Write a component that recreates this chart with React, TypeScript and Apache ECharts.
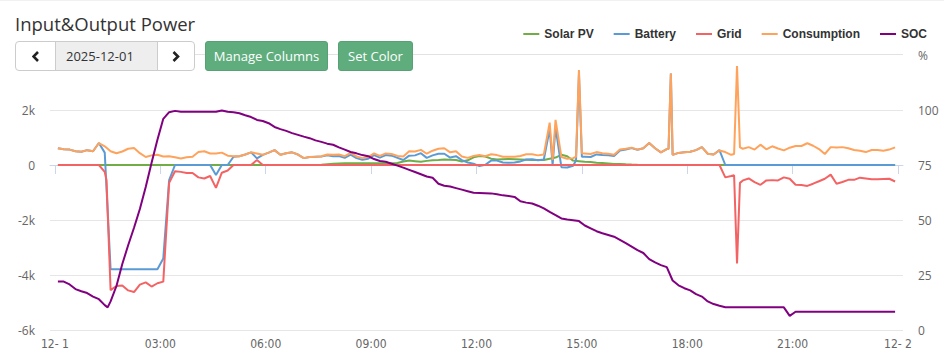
import React, { useEffect, useRef } from "react";
import * as echarts from "echarts";

// ---- data ----
const seriesNames = ["Solar PV", "Battery", "Grid", "Consumption", "SOC"];
const seriesColors = ["#70ad47", "#5b9bd5", "#f46363", "#ffa35c", "#800080"];

// samples every 10 minutes, first one at 00:05
const FIRST_SAMPLE_MIN = 5;
const SAMPLE_STEP_MIN = 10;

const xTickMinutes = [0, 180, 360, 540, 720, 900, 1080, 1260, 1440];
const xTickLabels = ["12- 1", "03:00", "06:00", "09:00", "12:00", "15:00", "18:00", "21:00", "12- 2"];

const solarPV = [
  0, 0, 0, 0, 0, 0, 0, 0, 0, 0,
  0, 0, 0, 0, 0, 0, 0, 0, 0, 0,
  0, 0, 0, 0, 0, 0, 0, 0, 0, 0,
  0, 0, 0, 0, 0, 0, 0, 0, 0, 0,
  0, 0, 0, 0, 0, 10, 30, 50, 55, 60,
  60, 60, 60, 60, 60, 60, 60, 60, 70, 130,
  160, 140, 120, 150, 170, 180, 200, 190, 180, 130,
  170, 280, 330, 310, 230, 200, 210, 220, 210, 200,
  190, 180, 180, 180, 230, 270, 370, 320, 160, 140,
  120, 110, 85, 70, 55, 40, 36, 25, 15, 8,
  3, 0, 0, 0, 0, 0, 0, 0, 0, 0,
  0, 0, 0, 0, 0, 0, 0, 0, 0, 0,
  0, 0, 0, 0, 0, 0, 0, 0, 0, 0,
  0, 0, 0, 0, 0, 0, 0, 0, 0, 0,
  0, 0, 0, 0,
];
const solarPVExtras: [string, number][] = [];

const battery = [
  610, 570, 560, 500, 480, 540, 500, 800, 450, -3790,
  -3790, -3790, -3790, -3790, -3790, -3790, -3790, -3790, -3400, -550,
  0, 0, 0, 0, 0, 0, 0, -360, 0, 0,
  300, 320, 380, 460, 240, 370, 450, 540, 370, 430,
  460, 380, 250, 290, 300, 310, 350, 320, 325, 260,
  380, 250, 190, 230, 360, 270, 360, 340, 260, 180,
  340, 350, 430, 260, 350, 410, 410, 270, 320, 180,
  90, 50, -40, 10, 160, 160, 90, 80, 90, 130,
  200, 210, 170, 200, 1310, 1370, -80, -90, -30, 3310,
  300, 290, 385, 360, 355, 330, 524, 565, 615, 552,
  607, 800, 610, 460, 580, 370, 440, 460, 480, 540,
  650, 410, 380, 540, 0, 0, 0, 0, 0, 0,
  0, 0, 0, 0, 0, 0, 0, 0, 0, 0,
  0, 0, 0, 0, 0, 0, 0, 0, 0, 0,
  0, 0, 0, 0,
];
const batteryExtras: [string, number][] = [
  ["14:10", 0], ["14:50", 160], ["15:00", 300], ["17:28", 580], ["17:32", 3330],
];

const grid = [
  0, 0, 0, 0, 0, 0, 0, 0, -250, -4550,
  -4400, -4380, -4560, -4620, -4350, -4270, -4420, -4300, -4240, -650,
  -230, -250, -290, -290, -450, -490, -400, -830, -280, -200,
  0, 0, 0, 0, 180, 0, 0, 0, 0, 0,
  0, 0, 0, 0, 0, 0, 0, 0, 0, 0,
  0, 0, 0, 0, 0, 0, 0, 0, 0, 0,
  0, 0, 0, 0, 0, 0, 0, 0, 0, 0,
  0, 0, 0, 0, 0, 0, 0, 0, 0, 0,
  0, 0, 0, 0, 0, 0, 0, 0, 0, 0,
  0, 0, 0, 0, 0, 0, 0, 0, 0, 0,
  0, 0, 0, 0, 0, 0, 0, 0, 0, 0,
  0, 0, 0, 0, -450, -400, -3580, -560, -490, -620,
  -720, -560, -550, -560, -450, -500, -720, -727, -760, -680,
  -590, -500, -350, -680, -620, -540, -540, -460, -490, -520,
  -520, -510, -500, -600,
];
const gridExtras: [string, number][] = [
  ["01:28", -550], ["19:20", -370], ["19:30", -650],
];

const consumption = [
  610, 570, 560, 500, 480, 540, 500, 800, 680, 500,
  425, 490, 590, 620, 430, 290, 350, 370, 310, 320,
  280, 240, 280, 300, 470, 500, 420, 420, 450, 340,
  320, 320, 380, 460, 420, 370, 450, 540, 370, 430,
  460, 380, 250, 290, 300, 320, 380, 370, 380, 320,
  440, 310, 250, 290, 420, 330, 420, 400, 330, 310,
  500, 490, 550, 410, 520, 590, 610, 460, 500, 310,
  260, 330, 360, 320, 390, 360, 300, 300, 300, 330,
  390, 390, 350, 380, 1540, 1640, 290, 230, 250, 3450,
  420, 400, 470, 430, 410, 370, 560, 590, 630, 560,
  610, 800, 610, 460, 580, 370, 440, 460, 480, 540,
  650, 410, 380, 530, 470, 370, 3600, 590, 650, 560,
  740, 570, 680, 600, 530, 630, 690, 690, 790, 700,
  580, 400, 650, 640, 650, 610, 545, 520, 470, 545,
  545, 520, 560, 640,
];
const consumptionExtras: [string, number][] = [
  ["14:10", 180], ["14:50", 300], ["15:00", 430], ["17:28", 580], ["17:32", 3330],
  ["19:20", 400], ["19:30", 640],
];

const soc = [
  22, 22, 20.7, 18.6, 17.6, 16.8, 15.2, 14, 11.3, 13,
  20, 30, 38.5, 46.5, 55, 65, 76, 86.5, 96, 99,
  99.6, 99.2, 99.2, 99.2, 99.2, 99.2, 99.2, 99.2, 99.8, 99.2,
  99, 98.5, 97.6, 96.8, 95.5, 95, 94, 92.3, 91.3, 90.5,
  89.5, 88.7, 87.9, 87.2, 86.2, 85.5, 84.7, 84.2, 83, 82,
  80.9, 80.3, 79.5, 79, 77.7, 76.8, 76.5, 75.6, 74.7, 73.8,
  72.8, 71.8, 70.8, 69.8, 69.2, 66.5, 65.6, 65.2, 64.5, 63.8,
  63.1, 62.4, 62.3, 62.2, 62.1, 61.7, 61.2, 60.9, 60.5, 58.5,
  57.9, 57.5, 56.5, 55.3, 53.7, 52.2, 50.7, 50.2, 49.9, 49.5,
  47.5, 46.2, 44.9, 44, 43.2, 42.4, 41, 39.5, 37.9, 36.3,
  35, 32.2, 30.7, 29.5, 28.6, 22.5, 20.3, 19, 18, 16.3,
  15.2, 13, 11.8, 11, 10.3, 10.3, 10.3, 10.3, 10.3, 10.3,
  10.3, 10.3, 10.3, 10.3, 10.3, 6.4, 8.3, 8.3, 8.3, 8.3,
  8.3, 8.3, 8.3, 8.3, 8.3, 8.3, 8.3, 8.3, 8.3, 8.3,
  8.3, 8.3, 8.3, 8.3,
];
const socExtras: [string, number][] = [["01:30", 10.3]];

const powerAxisTicks = { min: -6000, max: 2000, interval: 2000 };
const socAxisTicks = { min: 0, max: 100, interval: 25 };

const dateLabel = "2025-12-01";

function toMinutes(t: string) {
  const [h, m] = t.split(":").map(Number);
  return h * 60 + m;
}

function toPoints(values: number[], extras: [string, number][]) {
  const pts: [number, number][] = values.map((v, i) => [FIRST_SAMPLE_MIN + SAMPLE_STEP_MIN * i, v]);
  extras.forEach(([t, v]) => pts.push([toMinutes(t), v]));
  pts.sort((a, b) => a[0] - b[0]);
  return pts;
}

const FONT = '"Open Sans", "Liberation Sans", Arial, sans-serif';

function Chevron({ dir }: { dir: "left" | "right" }) {
  const pts = dir === "left" ? "6,1 1.5,5.5 6,10" : "1.5,1 6,5.5 1.5,10";
  return (
    <svg width="8" height="11" viewBox="0 0 8 11" style={{ display: "block" }}>
      <polyline points={pts} fill="none" stroke="#222" strokeWidth="2.6" strokeLinejoin="miter" />
    </svg>
  );
}

export default function App() {
  const ref = useRef<HTMLDivElement>(null);

  useEffect(() => {
    document.body.style.margin = "0";
    if (!ref.current) return;
    const chart = echarts.init(ref.current, undefined, { renderer: "svg" });
    const data = [
      toPoints(solarPV, solarPVExtras),
      toPoints(battery, batteryExtras),
      toPoints(grid, gridExtras),
      toPoints(consumption, consumptionExtras),
      toPoints(soc, socExtras),
    ];
    chart.setOption({
      animation: false,
      textStyle: { fontFamily: FONT },
      grid: { left: 50, right: 41, top: 110, bottom: 34 },
      legend: {
        data: seriesNames,
        right: 12,
        top: 23,
        icon: "rect",
        itemWidth: 16,
        itemHeight: 2,
        itemGap: 20,
        textStyle: { fontWeight: "bold", fontSize: 12, color: "#333", fontFamily: '"Liberation Sans", Arial, sans-serif' },
      },
      xAxis: {
        type: "value",
        min: -8.5,
        max: 1448.5,
        splitLine: { show: false },
        axisLine: { lineStyle: { color: "#ccd6eb" } },
        axisTick: { length: 9, customValues: xTickMinutes, lineStyle: { color: "#ccd6eb" } },
        axisLabel: {
          customValues: xTickMinutes,
          margin: 8,
          color: "#666",
          fontSize: 12,
          fontFamily: '"DejaVu Sans Condensed", "Liberation Sans Narrow", "Roboto Condensed", sans-serif',
          formatter: (v: number) => {
            const idx = xTickMinutes.indexOf(Math.round(v));
            return idx >= 0 ? xTickLabels[idx] : "";
          },
        },
      },
      yAxis: [
        {
          type: "value",
          ...powerAxisTicks,
          axisLine: { show: false },
          axisTick: { show: false },
          splitLine: { lineStyle: { color: "#e6e6e6" } },
          axisLabel: {
            color: "#666",
            fontSize: 12,
            margin: 15,
            formatter: (v: number) => (v === 0 ? "0" : v / 1000 + "k"),
          },
        },
        {
          type: "value",
          ...socAxisTicks,
          position: "right",
          name: "%",
          nameLocation: "end",
          nameGap: 49,
          nameTextStyle: { color: "#666", fontSize: 12, align: "left", padding: [0, 0, 0, 15] },
          axisLine: { show: false },
          axisTick: { show: false },
          splitLine: { show: false },
          axisLabel: { color: "#666", fontSize: 12, margin: 15 },
        },
      ],
      series: seriesNames.map((name, i) => ({
        name,
        type: "line",
        yAxisIndex: i === 4 ? 1 : 0,
        data: data[i],
        showSymbol: false,
        symbol: "none",
        clip: false,
        color: seriesColors[i],
        lineStyle: { width: 2, color: seriesColors[i] },
        emphasis: { disabled: true },
        z: 2 + i,
      })),
    });
    return () => chart.dispose();
  }, []);

  const btn: React.CSSProperties = {
    position: "absolute",
    top: 41,
    height: 30,
    boxSizing: "border-box",
    background: "#5fad7d",
    border: "1px solid #56a274",
    borderRadius: 3,
    color: "#fff",
    fontSize: 13,
    fontFamily: FONT,
    display: "flex",
    alignItems: "center",
    justifyContent: "center",
  };

  return (
    <div style={{ position: "relative", width: 944, height: 364, background: "#fff", overflow: "hidden" }}>
      <div ref={ref} style={{ position: "absolute", left: 0, top: 0, width: 944, height: 364 }} />
      <div style={{ position: "absolute", left: 0, top: 0, width: 944, height: 1, background: "#eef2f2" }} />
      <div
        style={{
          position: "absolute",
          left: 15,
          top: 11,
          fontFamily: FONT,
          fontSize: 18.5,
          color: "#333",
          lineHeight: "normal",
          whiteSpace: "nowrap",
        }}
      >
        Input&amp;Output Power
      </div>
      <div style={{ position: "absolute", left: 194, top: 54, width: 709, height: 1, background: "#e2e2e2" }} />
      <div
        style={{
          position: "absolute",
          left: 15,
          top: 41,
          width: 180,
          height: 30,
          boxSizing: "border-box",
          border: "1px solid #ccc",
          borderRadius: 4,
          background: "#fff",
          display: "flex",
          overflow: "hidden",
          fontFamily: FONT,
        }}
      >
        <div style={{ width: 39, display: "flex", alignItems: "center", justifyContent: "center", borderRight: "1px solid #ccc" }}>
          <Chevron dir="left" />
        </div>
        <div
          style={{
            width: 101,
            background: "#eeeeee",
            display: "flex",
            alignItems: "center",
            paddingLeft: 10,
            boxSizing: "border-box",
            fontSize: 13,
            color: "#333",
          }}
        >
          {dateLabel}
        </div>
        <div style={{ flex: 1, display: "flex", alignItems: "center", justifyContent: "center", borderLeft: "1px solid #ccc" }}>
          <Chevron dir="right" />
        </div>
      </div>
      <div style={{ ...btn, left: 205, width: 123 }}>Manage Columns</div>
      <div style={{ ...btn, left: 338, width: 75 }}>Set Color</div>
    </div>
  );
}
